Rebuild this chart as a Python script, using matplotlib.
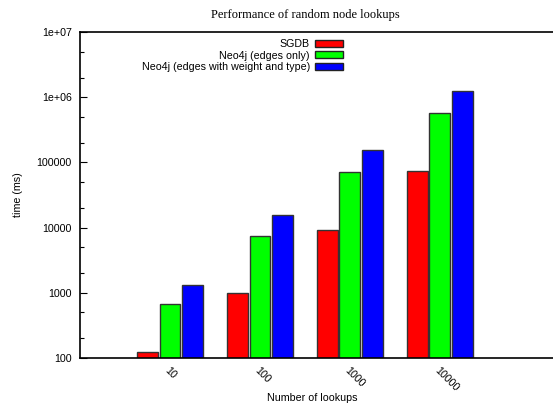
import matplotlib
matplotlib.use('Agg')
import matplotlib.pyplot as plt
from matplotlib.patches import Patch
from matplotlib.ticker import FixedLocator, FuncFormatter
import numpy as np

lookups = ['10', '100', '1000', '10000']
sgdb = [124, 1000, 9200, 74000]
neo4j_edges = [670, 7450, 71000, 575000]
neo4j_weighted = [1320, 15500, 155000, 1240000]

series = [
    ('SGDB', sgdb, '#ff0000'),
    ('Neo4j (edges only)', neo4j_edges, '#00ff00'),
    ('Neo4j (edges with weight and type)', neo4j_weighted, '#0000ff'),
]

plt.rcParams['font.family'] = ['Liberation Sans', 'DejaVu Sans']

fig = plt.figure(figsize=(5.53, 4.05), dpi=100)
ax = fig.add_axes([80 / 553, 1 - 358 / 405, 1 - 80 / 553, (358 - 32) / 405])

x = np.arange(len(lookups))
offsets = [-0.25, 0.0, 0.25]
handles = []
for (name, vals, color), off in zip(series, offsets):
    ax.bar(x + off, vals, width=0.23, bottom=1, color=color,
           edgecolor='#333333', linewidth=1.0, zorder=2)
    handles.append(Patch(facecolor=color, edgecolor='#222222', linewidth=1.0, label=name))

ax.set_yscale('log')
ax.set_ylim(100, 1e7)
ax.set_xlim(-1, 4.26)

ax.yaxis.set_major_locator(FixedLocator([1e2, 1e3, 1e4, 1e5, 1e6, 1e7]))
ax.yaxis.set_minor_locator(FixedLocator([m * 10 ** e for e in range(2, 7) for m in (2, 5)]))
ylabels = {100: '100', 1000: '1000', 10000: '10000', 100000: '100000',
           1000000: '1e+06', 10000000: '1e+07'}
ax.yaxis.set_major_formatter(FuncFormatter(lambda v, p: ylabels.get(int(round(v)), '')))
ax.yaxis.set_minor_formatter(FuncFormatter(lambda v, p: ''))

ax.set_xticks(x)
ax.set_xticklabels(lookups, rotation=-45, ha='left', va='top', rotation_mode='anchor')
ax.tick_params(axis='x', length=0, pad=5, labelsize=7.7)
ax.tick_params(axis='y', which='major', direction='in', length=5, width=0.8, labelsize=7.7, pad=6)
ax.tick_params(axis='y', which='minor', direction='in', length=3, width=0.8)

for s in ['left', 'top', 'bottom']:
    ax.spines[s].set_linewidth(1.2)
ax.spines['right'].set_visible(False)

fig.text(18 / 553, 1 - 195 / 405, 'time (ms)', rotation=90, ha='center', va='center', fontsize=7.7)
fig.text(312 / 553, 1 - 398 / 405, 'Number of lookups', ha='center', va='center', fontsize=7.7)
fig.text(305 / 553, 1 - 15 / 405, 'Performance of random node lookups',
         ha='center', va='center', fontsize=9, family=['Liberation Serif', 'DejaVu Serif'])

ax.legend(handles=handles, loc='upper right', bbox_to_anchor=(343 / 553, 1 - 39 / 405),
          bbox_transform=fig.transFigure,
          markerfirst=False, frameon=False, fontsize=7.7,
          handlelength=2.6, handleheight=0.6, handletextpad=0.5,
          labelspacing=0.15, borderaxespad=0.0, borderpad=0.0)
leg = ax.get_legend()
for t in leg.get_texts():
    t.set_ha('right')

fig.savefig('out.png', dpi=100, facecolor='white')
